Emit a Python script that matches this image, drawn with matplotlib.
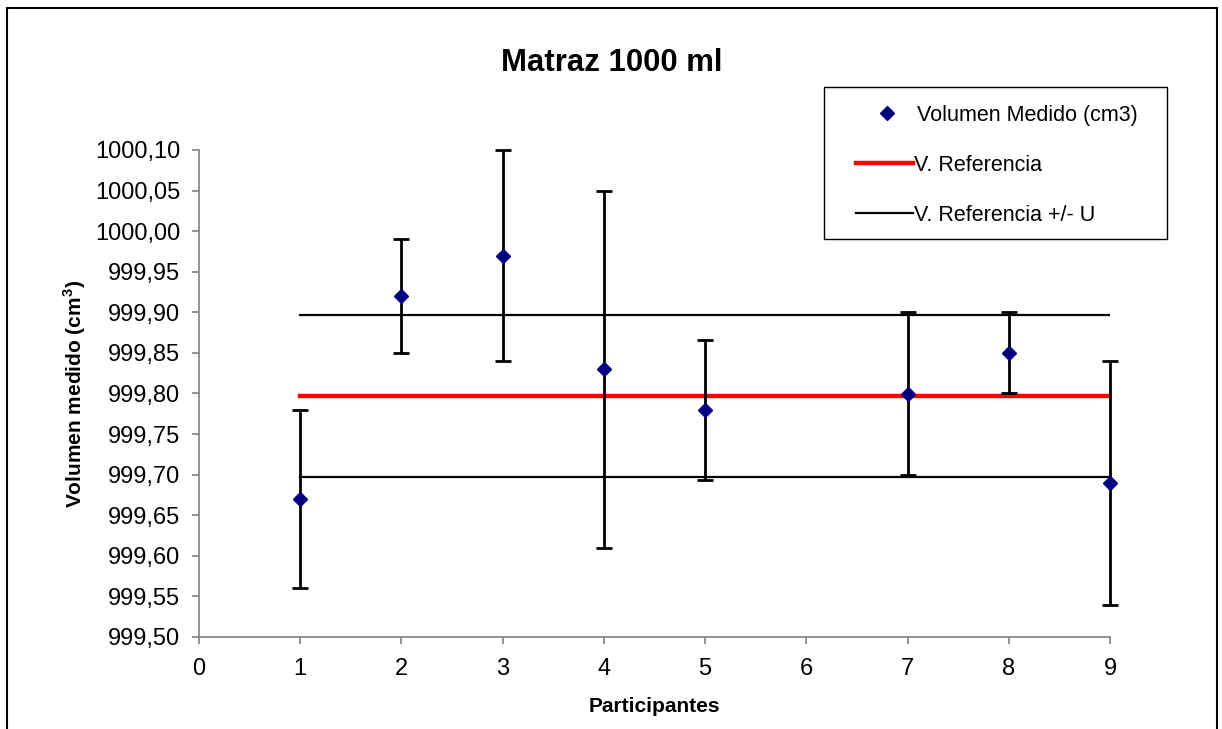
import numpy as np
import matplotlib
matplotlib.use('Agg')
import matplotlib.pyplot as plt
from matplotlib.ticker import FuncFormatter, MultipleLocator
from matplotlib.patches import Rectangle
from matplotlib.lines import Line2D

plt.rcParams['font.family'] = ['Liberation Sans', 'DejaVu Sans']
plt.rcParams['mathtext.fontset'] = 'custom'
plt.rcParams['mathtext.rm'] = 'Liberation Sans'
plt.rcParams['mathtext.bf'] = 'Liberation Sans:bold'

#%% data
participants = [1, 2, 3, 4, 5, 7, 8, 9]
volume = [999.67, 999.92, 999.97, 999.83, 999.78, 999.80, 999.85, 999.69]
err = [0.11, 0.07, 0.13, 0.22, 0.086, 0.10, 0.05, 0.15]
v_ref = 999.797
u_ref = 0.10
ref_x = [1, 9]
leg_labels = ['Volumen Medido (cm3)', 'V. Referencia', 'V. Referencia +/- U']

#%% plot
W, H = 1222, 729
fig = plt.figure(figsize=(W / 100, H / 100), dpi=100)
ax = fig.add_axes([199 / W, 1 - 637 / H, (1110 - 199) / W, (637 - 150) / H])

ax.plot(ref_x, [v_ref + u_ref] * 2, color='black', lw=1.6, zorder=2)
ax.plot(ref_x, [v_ref - u_ref] * 2, color='black', lw=1.6, zorder=2)
ax.plot(ref_x, [v_ref] * 2, color='red', lw=3.2, zorder=2)
eb = ax.errorbar(participants, volume, yerr=err, fmt='none', ecolor='black',
                 elinewidth=2, capsize=6, capthick=2, zorder=3)
for a in eb.lines[1] + eb.lines[2]:
    a.set_clip_on(False)
ax.plot(participants, volume, 'D', color='#000080', ms=7.6, ls='none', zorder=4,
        clip_on=False)

ax.set_xlim(0, 9)
ax.set_ylim(999.5, 1000.1)
ax.xaxis.set_major_locator(MultipleLocator(1))
ax.yaxis.set_major_locator(MultipleLocator(0.05))
ax.yaxis.set_major_formatter(FuncFormatter(lambda v, p: f'{v:.2f}'.replace('.', ',')))

for s in ['top', 'right']:
    ax.spines[s].set_visible(False)
for s in ['left', 'bottom']:
    ax.spines[s].set_color('#808080')
    ax.spines[s].set_linewidth(1.2)
ax.tick_params(direction='out', length=5, width=1.2, color='#808080', labelsize=17)
ax.tick_params(axis='y', pad=8.5)
ax.tick_params(axis='x', pad=10)

ax.set_xlabel('Participantes', fontsize=15, fontweight='bold', labelpad=12)
ax.set_ylabel('Volumen medido (cm$^{\\mathbf{3}}$)', fontsize=15, fontweight='bold', labelpad=5)

# title is centred on the whole chart area, not on the plot area
fig.text(612 / W, 1 - 63 / H, 'Matraz 1000 ml', fontsize=22.4, fontweight='bold',
         ha='center', va='center')

#%% legend drawn by hand (Excel style box)
tf = fig.transFigure
fig.patches.append(Rectangle((824 / W, 1 - 239 / H), (1167 - 824) / W, (239 - 87) / H,
                             transform=tf, fill=False, ec='black', lw=1.0))
row_y = [113, 163, 213]
fig.lines.append(Line2D([887 / W], [1 - row_y[0] / H], transform=tf, marker='D',
                        color='#000080', ms=7.6, ls='none'))
fig.lines.append(Line2D([856 / W, 913 / W], [1 - row_y[1] / H] * 2, transform=tf,
                        color='red', lw=3.2))
fig.lines.append(Line2D([856 / W, 913 / W], [1 - row_y[2] / H] * 2, transform=tf,
                        color='black', lw=1.6))
text_x = [917, 914, 914]
for lab, tx, ty in zip(leg_labels, text_x, row_y):
    fig.text(tx / W, 1 - (ty + 2.5) / H, lab, fontsize=15.5, va='center', ha='left')

# outer border
fig.patches.append(Rectangle((7 / W, -0.05), (1217 - 7) / W, 1 - 8 / H + 0.05,
                             transform=tf, fill=False, ec='black', lw=1.5))

fig.savefig('out.png', dpi=100)
